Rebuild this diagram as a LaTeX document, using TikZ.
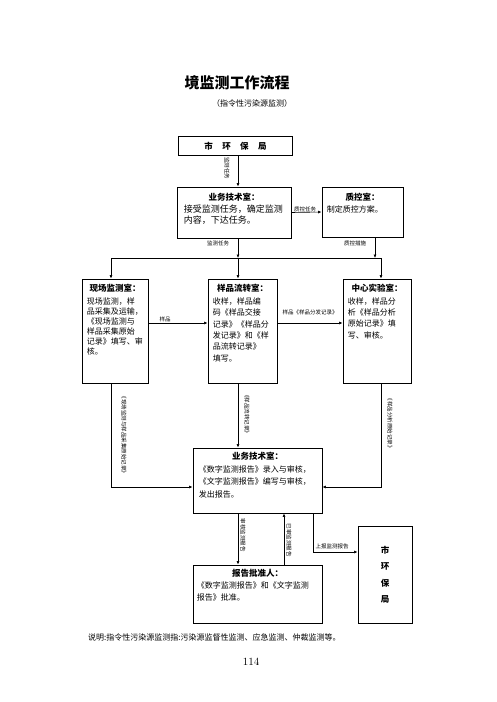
\documentclass[tikz,border=0pt]{standalone}
\usepackage{fontspec}
\setmainfont{Noto Sans CJK SC}
\newfontfamily\lmfont{Latin Modern Roman}
\usetikzlibrary{arrows.meta,positioning}

\begin{document}
\begin{tikzpicture}[x=1pt, y=-1pt,
		room/.style = {draw, line width=0.9pt, inner sep=0pt},
		head/.style = {anchor=north, inner sep=0pt, font=\fontsize{8.5}{9}\selectfont\bfseries},
		note/.style = {inner sep=0pt, align=left, font=\fontsize{8}{#1}\selectfont},
		note/.default = 11,
		tag/.style = {inner sep=0.5pt, font=\fontsize{5.5}{6}\selectfont},
		vtag/.style = {tag, rotate=-90},
		arr/.style = {-{Latex[length=3.5pt,width=3pt]}, line width=0.6pt},
		link/.style = {line width=0.6pt}]
	\useasboundingbox (0,0) rectangle (496,702);

	% heading
	\node[font=\fontsize{15}{17}\selectfont\bfseries] (title) at (237,83) {境监测工作流程};
	\node[font=\fontsize{8}{9}\selectfont] (subtitle) at (252,103) {（指令性污染源监测）};

	% boxes
	\node[room, minimum width=114, minimum height=19] (bureau) at (235.5,146) {\fontsize{8.5}{9}\selectfont\bfseries 市\hspace{1.1em}环\hspace{1.1em}保\hspace{1.1em}局};
	\node[room, minimum width=114, minimum height=51] (tech1) at (234,212.5) {};
	\node[room, minimum width=81, minimum height=50] (qc) at (362.5,212) {};
	\node[room, minimum width=66, minimum height=104] (site) at (115,331) {};
	\node[room, minimum width=69, minimum height=104] (flow) at (242.5,331) {};
	\node[room, minimum width=68, minimum height=104] (lab) at (377,331) {};
	\node[room, minimum width=129, minimum height=65] (tech2) at (257.5,480.5) {};
	\node[room, minimum width=129, minimum height=58] (approve) at (257.5,594) {};
	\node[room, minimum width=54, minimum height=97] (bureau2) at (385,574.5) {};
	\node[align=center, inner sep=0pt, font=\fontsize{8.5}{16.5}\selectfont\bfseries] (bureau2T) at (bureau2) {市\\环\\保\\局};

	% box texts
	\node[head] (tech1H) at ([yshift=-6pt]tech1.north) {业务技术室：};
	\node[note, font=\fontsize{9}{11}\selectfont, below=4pt of tech1H.south -| tech1.west, anchor=north west, xshift=7pt] {接受监测任务，确定监测\\内容，下达任务。};
	\node[head] (qcH) at ([yshift=-6pt]qc.north) {质控室：};
	\node[note, below=4pt of qcH.south -| qc.west, anchor=north west, xshift=5pt] {制定质控方案。};
	\node[head] (siteH) at ([yshift=-5pt]site.north) {现场监测室：};
	\node[note=10, below=5.5pt of siteH.south -| site.west, anchor=north west, xshift=5pt] {现场监测，样\\品采集及运输，\\《现场监测与\\样品采集原始\\记录》填写、审\\核。};
	\node[head] (flowH) at ([yshift=-5pt]flow.north) {样品流转室：};
	\node[note=11.4, below=5pt of flowH.south -| flow.west, anchor=north west, xshift=5pt] {收样，样品编\\码《样品交接\\记录》《样品分\\发记录》和《样\\品流转记录》\\填写。};
	\node[head] (labH) at ([yshift=-5pt]lab.north) {中心实验室：};
	\node[note=11.4, below=5pt of labH.south -| lab.west, anchor=north west, xshift=5pt] {收样，样品分\\析《样品分析\\原始记录》填\\写、审核。};
	\node[head] (tech2H) at ([yshift=-4pt]tech2.north) {业务技术室：};
	\node[note=12.5, below=5pt of tech2H.south -| tech2.west, anchor=north west, xshift=6pt] {《数字监测报告》录入与审核，\\《文字监测报告》编写与审核，\\发出报告。};
	\node[head] (approveH) at ([yshift=-4pt]approve.north) {报告批准人：};
	\node[note=12, below=4pt of approveH.south -| approve.west, anchor=north west, xshift=4pt] {《数字监测报告》和《文字监测\\报告》批准。};

	% turning points of the connectors
	\coordinate (busL) at (111,258);
	\coordinate (busM) at (238,258);
	\coordinate (busQ) at (375,258);
	\coordinate (busR) at (381,258);
	\coordinate (smp) at (0,323);
	\coordinate (lowL) at (111,487);
	\coordinate (lowR) at (381,487);
	\coordinate (dn) at (238,540);
	\coordinate (up) at (284,540);
	\coordinate (rp) at (313,552);

	% connectors
	\draw[arr] (bureau.south -| busM) -- (tech1.north -| busM);
	\draw[arr] (tech1.east) -- (qc.west);
	\draw[arr] (tech1.south -| busM) -- (busM);
	\draw[arr] (qc.south -| busQ) -- (busQ);
	\draw[link] (busL) -- (busR);
	\draw[arr] (busL) -- (site.north -| busL);
	\draw[arr] (busM) -- (flow.north -| busM);
	\draw[arr] (busR) -- (lab.north -| busR);
	\draw[arr] (site.east |- smp) -- (flow.west |- smp);
	\draw[arr] (flow.east |- smp) -- (lab.west |- smp);
	\draw[arr] (site.south -| lowL) -- (lowL) -- (tech2.west |- lowL);
	\draw[arr] (flow.south -| busM) -- (tech2.north -| busM);
	\draw[arr] (lab.south -| lowR) -- (lowR) -- (tech2.east |- lowR);
	\draw[arr] (tech2.south -| dn) -- (approve.north -| dn);
	\draw[arr] (approve.north -| up) -- (tech2.south -| up);
	\draw[arr] (tech2.south -| rp) -- (rp) -- (bureau2.west |- rp);

	% connector labels
	\node[vtag] at (227,168) {监测任务};
	\node[tag] at (305,209) {质控任务};
	\node[tag] at (218,243) {监测任务};
	\node[tag] at (355,243) {质控措施};
	\node[tag] at (165,319) {样品};
	\node[tag] at (310,312) {样品《样品分发记录》};
	\node[vtag] at (124,435) {《现场监测与样品采集原始记录》};
	\node[vtag] at (247,414) {《样品流转记录》};
	\node[vtag] at (390,423) {《样品分析原始记录》};
	\node[vtag] at (243,535) {审核监测报告};
	\node[vtag] at (289,540) {已审监测报告};
	\node[tag] at (332,546) {上报监测报告};

	% foot
	\node[anchor=west, inner sep=0pt, font=\fontsize{8}{9}\selectfont] (foot) at (88,637) {说明:指令性污染源监测指:污染源监督性监测、应急监测、仲裁监测等。};
	\node[font=\lmfont\fontsize{11}{12}\selectfont] (page) at (251,662) {114};
\end{tikzpicture}
\end{document}
